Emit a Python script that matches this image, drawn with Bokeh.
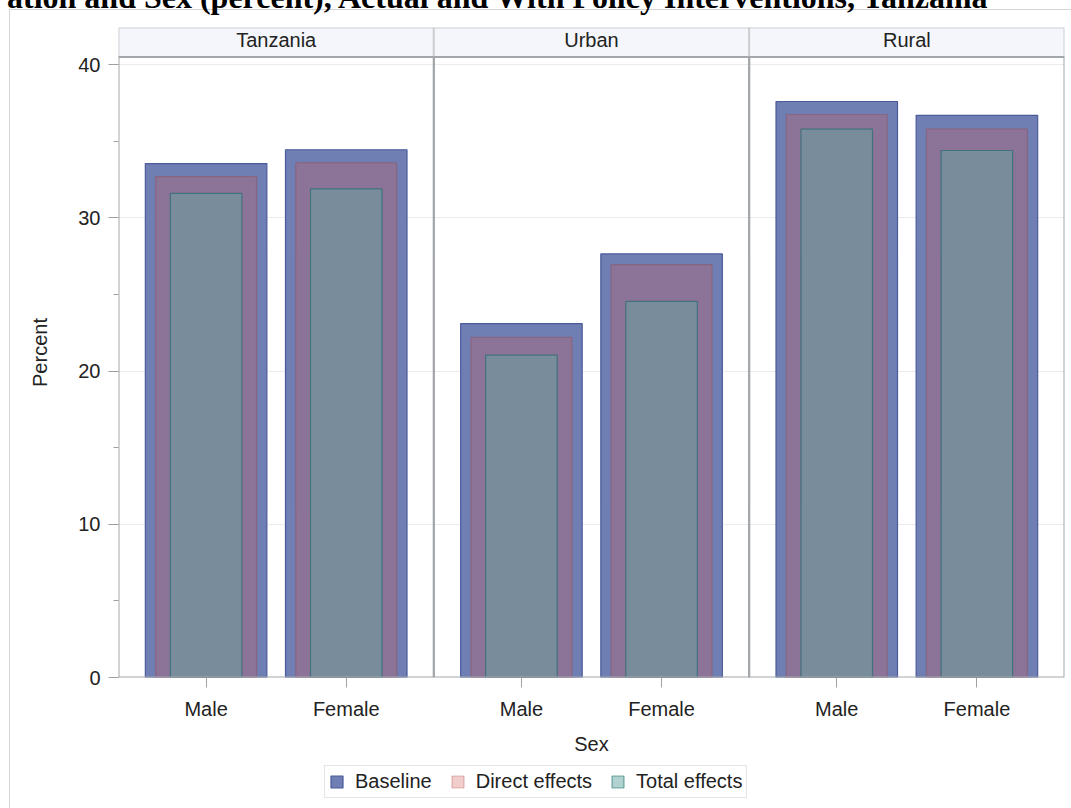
from bokeh.plotting import figure
from bokeh.layouts import column
from bokeh.models import (FactorRange, Range1d, ColumnDataSource, SingleIntervalTicker,
                          Legend, LegendItem)
from bokeh.core.properties import value
from bokeh.embed import file_html
from bokeh.resources import INLINE

# ---------------- data ----------------
title_text = "ation and Sex (percent), Actual and With Policy Interventions, Tanzania"
regions = ["Tanzania", "Urban", "Rural"]
sexes = ["Male", "Female"]
baseline = [33.55, 34.45, 23.1, 27.65, 37.6, 36.7]
direct = [32.7, 33.6, 22.2, 26.95, 36.75, 35.8]
total = [31.6, 31.9, 21.05, 24.55, 35.8, 34.4]
series_labels = ["Baseline", "Direct effects", "Total effects"]

# ---------------- layout constants ----------------
FONT = "Liberation Sans"
YTOP = 42.43      # top of frame (includes the panel header strip)
HEAD_BOT = 40.51  # bottom of panel header strip
PANEL_W = 2.25
TOP_OFF = 38      # layout starts this many px above the page top

BASE_STYLE = dict(fill_color="#6F7EB3", line_color="#4a5a9a", line_width=1.2)
DIRECT_STYLE = dict(fill_color="#D05B5B", fill_alpha=0.3, line_color="#A23A2E", line_alpha=0.3, line_width=1.2)
TOTAL_STYLE = dict(fill_color="#66A5A0", fill_alpha=0.5, line_color="#01665E", line_alpha=0.5, line_width=1.2)

factors = [(r, s) for r in regions for s in sexes]
x_range = FactorRange(*factors, group_padding=0.25, factor_padding=0.0,
                      range_padding=0.125, range_padding_units="absolute")
src = ColumnDataSource(dict(x=factors, baseline=baseline, direct=direct, total=total))

line_css = "linear-gradient(#d4d4d4, #d4d4d4)"
p = figure(x_range=x_range, y_range=Range1d(0, YTOP), width=1071, height=798,
           output_backend="svg", toolbar_location=None, title=title_text,
           min_border_left=118, min_border_right=7, min_border_top=65, min_border_bottom=83,
           styles={"background-color": "white",
                   "background-image": f"{line_css}, {line_css}",
                   "background-size": "1px 100%, 100% 1px",
                   "background-position": f"9px {9 + TOP_OFF}px, 9px {9 + TOP_OFF}px",
                   "background-repeat": "no-repeat"})
p.outline_line_color = None
p.background_fill_color = "white"
p.border_fill_alpha = 0.0

# page title (cut off at the top, as in the source page)
p.title.text_font = "Liberation Serif"
p.title.text_font_style = "bold"
p.title.text_font_size = "32px"
p.title.text_color = "black"
p.title.align = "right"
p.title.offset = 74
p.title.standoff = 25
p.title.vertical_align = "bottom"

# grid
p.xgrid.grid_line_color = None
p.ygrid.grid_line_color = "#ebebeb"
p.ygrid.grid_line_width = 1

# header strips
head_src = ColumnDataSource(dict(x=regions, label=regions))
p.rect(x="x", y=(HEAD_BOT + YTOP) / 2, width=PANEL_W, height=YTOP - HEAD_BOT, source=head_src,
       fill_color="#f5f6fc", line_color="#cdd0d3", line_width=2)
p.text(x="x", y=(HEAD_BOT + YTOP) / 2, text="label", source=head_src, y_offset=-2,
       text_align="center", text_baseline="middle", text_font=value(FONT),
       text_font_size="20px", text_color="#222222")

# bars
p.vbar(x="x", top="baseline", width=0.867, source=src, **BASE_STYLE)
p.vbar(x="x", top="direct", width=0.72, source=src, **DIRECT_STYLE)
p.vbar(x="x", top="total", width=0.51, source=src, **TOTAL_STYLE)

# panel borders
p.rect(x="x", y=HEAD_BOT / 2, width=PANEL_W, height=HEAD_BOT, source=head_src,
       fill_color=None, line_color="#a3a7ab", line_width=2)

# y axis
yax = p.yaxis[0]
yax.ticker = SingleIntervalTicker(interval=10, num_minor_ticks=2)
yax.axis_label = "Percent"
yax.axis_label_text_font = FONT
yax.axis_label_text_font_style = "normal"
yax.axis_label_text_font_size = "20px"
yax.axis_label_text_color = "#222222"
yax.axis_label_standoff = 24
yax.axis_line_color = None
yax.major_tick_line_color = "#a0a0a0"
yax.minor_tick_line_color = "#a0a0a0"
yax.major_tick_out = 10
yax.major_tick_in = 0
yax.minor_tick_out = 5
yax.minor_tick_in = 0
yax.major_label_standoff = 8
yax.major_label_text_font = FONT
yax.major_label_text_font_size = "20px"
yax.major_label_text_color = "#222222"

# x axis
xax = p.xaxis[0]
xax.axis_label = "Sex"
xax.axis_label_text_font = FONT
xax.axis_label_text_font_style = "normal"
xax.axis_label_text_font_size = "20px"
xax.axis_label_text_color = "#222222"
xax.axis_label_standoff = 10
xax.axis_line_color = None
xax.major_tick_line_color = "#a0a0a0"
xax.major_tick_out = 10
xax.major_tick_in = 0
xax.major_label_standoff = 10
xax.major_label_text_font = FONT
xax.major_label_text_font_size = "20px"
xax.major_label_text_color = "#222222"
xax.major_label_orientation = "horizontal"
xax.group_text_font_size = "1px"
xax.group_text_alpha = 0
xax.separator_line_color = None

# legend strip (own small figure so the legend is not clipped); its bars lie outside
# its visible y range, they only provide the legend keys
pl = figure(width=1071, height=48, x_range=x_range, y_range=Range1d(100, 101),
            output_backend="svg", toolbar_location=None, title=None,
            x_axis_location=None, y_axis_location=None,
            min_border_left=0, min_border_right=0, min_border_top=0, min_border_bottom=0,
            styles={"background-color": "white",
                    "background-image": line_css,
                    "background-size": "1px 100%",
                    "background-position": "9px 0px",
                    "background-repeat": "no-repeat"})
pl.outline_line_color = None
pl.background_fill_alpha = 0.0
pl.border_fill_alpha = 0.0
pl.grid.visible = False
k1 = pl.vbar(x="x", top="baseline", width=0.867, source=src, **BASE_STYLE)
k2 = pl.vbar(x="x", top="direct", width=0.72, source=src, **DIRECT_STYLE)
k3 = pl.vbar(x="x", top="total", width=0.51, source=src, **TOTAL_STYLE)

legend = Legend(items=[LegendItem(label=series_labels[0], renderers=[k1]),
                       LegendItem(label=series_labels[1], renderers=[k2]),
                       LegendItem(label=series_labels[2], renderers=[k3])],
                orientation="horizontal", location=(206, 10),
                glyph_width=15, glyph_height=15, label_height=15, label_standoff=11,
                spacing=18, padding=4, margin=0,
                label_text_font=FONT, label_text_font_size="20px", label_text_color="#222222",
                label_text_line_height=1.0,
                border_line_color="#c9c9c9", border_line_width=1,
                background_fill_color="white", background_fill_alpha=1.0)
pl.add_layout(legend)

layout = column(p, pl, spacing=0, margin=(-TOP_OFF, 0, 0, 0))

open("out.html", "w").write(file_html(layout, INLINE))
